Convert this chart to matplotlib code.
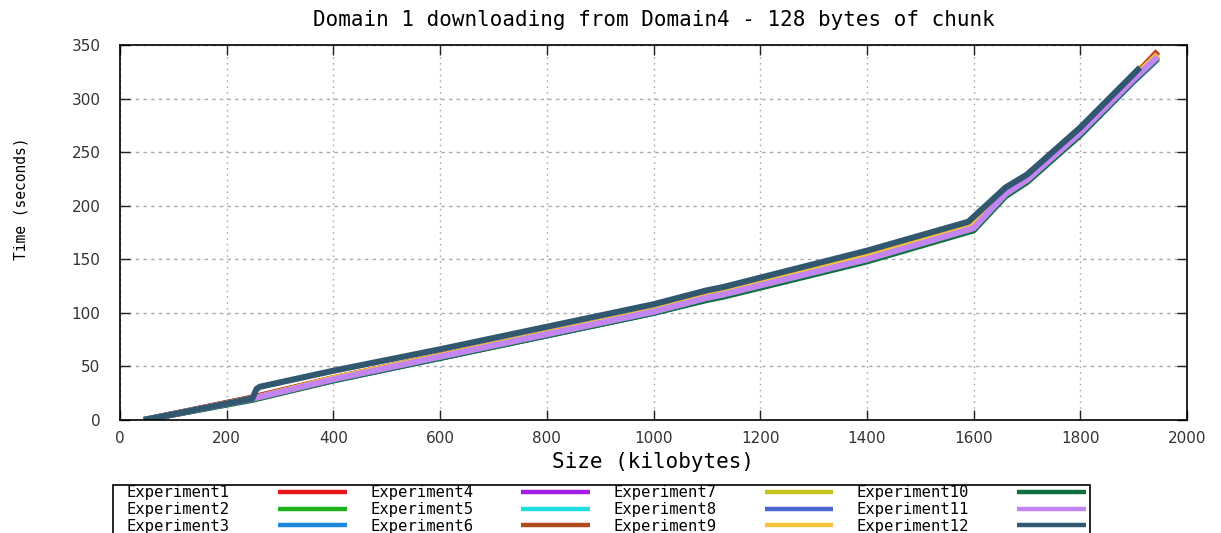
import matplotlib
matplotlib.use("Agg")
import matplotlib.pyplot as plt
from matplotlib.patches import Rectangle

# download time vs. file size, 128-byte chunks, one series per experiment run
SIZE_KB = [45, 250, 258, 400, 600, 800, 1000, 1100, 1130, 1400, 1600, 1660, 1700, 1800, 1900, 1945]

EXP1  = [0, 21, 22, 39, 60, 80, 101, 114, 117, 150, 180, 212, 225, 270, 320, 344]
EXP2  = [0, 20, 21, 38, 58, 79, 100, 113, 116, 149, 179, 211, 224, 268, 318, 339]
EXP3  = [0, 20, 21, 38, 59, 80, 101, 114, 117, 150, 180, 212, 225, 269, 319, 340]
EXP4  = [0, 20, 21, 38, 59, 80, 101, 114, 117, 150, 179, 211, 224, 268, 318, 339]
EXP5  = [0, 20, 21, 38, 59, 80, 101, 114, 117, 150, 180, 212, 225, 269, 319, 340]
EXP6  = [0, 21, 22, 39, 60, 81, 102, 115, 118, 151, 181, 213, 226, 270, 321, 343]
EXP7  = [0, 20, 21, 38, 59, 80, 101, 114, 118, 151, 181, 213, 225, 269, 319, 340]
EXP8  = [0, 20, 21, 37, 58, 79, 100, 113, 116, 149, 178, 210, 223, 266, 316, 337]
EXP9  = [0, 20, 21, 39, 60, 81, 102, 116, 119, 153, 183, 214, 226, 270, 320, 341]
EXP10 = [0, 19, 20, 37, 58, 79, 100, 112, 115, 148, 177, 209, 222, 266, 317, 338]
EXP11 = [0, 20, 21, 38, 59, 80, 101, 114, 117, 150, 179, 211, 224, 268, 318, 339]

# experiment 12 hit a stall around 250 KB and stopped early
SIZE_KB_12 = [45, 248, 256, 262, 400, 600, 800, 1000, 1100, 1130, 1400, 1590, 1660, 1700, 1800, 1912]
EXP12      = [0, 20, 29, 31, 46, 66, 87, 108, 121, 124, 158, 185, 217, 229, 273, 329]

LABELS = [f"Experiment{i}" for i in range(1, 13)]
COLORS = ["#e8151b", "#1db21d", "#1e88e0", "#a51ee6", "#22dde0", "#b04a1c",
          "#c4c21e", "#4a66d0", "#f4c23c", "#0f7040", "#c285f2", "#31586f"]

series = [(SIZE_KB, EXP1), (SIZE_KB, EXP2), (SIZE_KB, EXP3), (SIZE_KB, EXP4),
          (SIZE_KB, EXP5), (SIZE_KB, EXP6), (SIZE_KB, EXP7), (SIZE_KB, EXP8),
          (SIZE_KB, EXP9), (SIZE_KB, EXP10), (SIZE_KB, EXP11), (SIZE_KB_12, EXP12)]

MONO = "DejaVu Sans Mono"
W, H = 1221, 533

fig = plt.figure(figsize=(W / 100, H / 100), dpi=100)
ax = fig.add_axes([120 / W, 1 - 420 / H, 1067 / W, 375 / H])

for (x, y), lab, col in zip(series, LABELS, COLORS):
    ax.plot(x, y, color=col, lw=4.4, label=lab, solid_capstyle="butt")

ax.set_xlim(0, 2000)
ax.set_ylim(0, 350)
ax.set_xticks(range(0, 2001, 200))
ax.set_yticks(range(0, 351, 50))
ax.tick_params(direction="in", length=7, width=1, top=True, right=True,
               labelsize=11, pad=8, colors="#222222", labelcolor="#333333")
ax.tick_params(axis="y", pad=14)

ax.xaxis.grid(True, color="#aaaaaa", lw=1, linestyle=(0, (1.2, 3)))
ax.yaxis.grid(True, color="#aaaaaa", lw=1, linestyle=(0, (2.5, 3)))
ax.set_axisbelow(True)
for s in ax.spines.values():
    s.set_linewidth(1.2)

ax.set_title("Domain 1 downloading from Domain4 - 128 bytes of chunk",
             family=MONO, fontsize=15, pad=14)
ax.set_xlabel("Size (kilobytes)", family=MONO, fontsize=15, labelpad=4)
ax.set_ylabel("Time (seconds)", family=MONO, fontsize=10.5)
ax.yaxis.set_label_coords(-0.086, 0.59)

# key box: text first, sample line after it, as gnuplot draws it
fig.add_artist(Rectangle((113 / W, -0.05), (1090 - 113) / W, 0.05 + 1 - 485 / H,
                         transform=fig.transFigure, fill=False,
                         edgecolor="black", lw=1.2))
leg = fig.legend(loc="upper left", bbox_to_anchor=(127 / W, 1 - 485.5 / H),
                 ncol=4, markerfirst=False, frameon=False,
                 prop={"family": MONO, "size": 11.2}, handlelength=4.4,
                 handletextpad=3.1, columnspacing=1.5, labelspacing=0.1,
                 borderpad=0, borderaxespad=0)
for h in leg.get_lines():
    h.set_linewidth(3.2)

fig.savefig("out.png", dpi=100)
